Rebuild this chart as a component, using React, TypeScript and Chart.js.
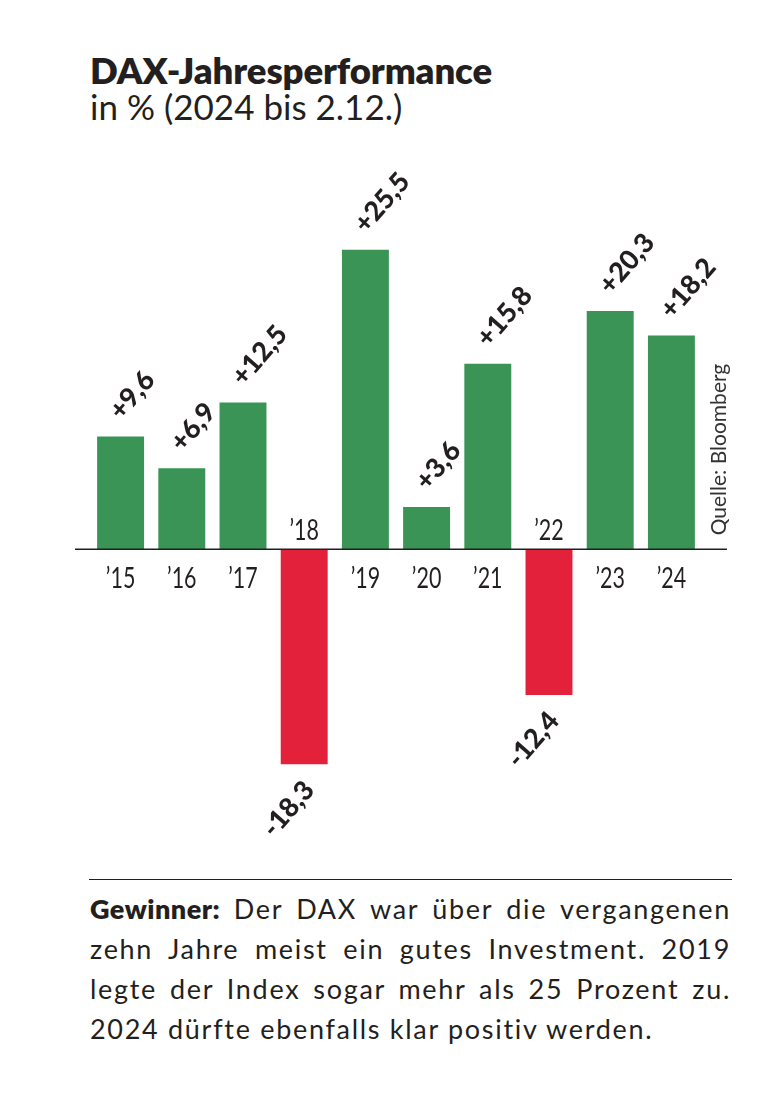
import React, { useEffect, useRef } from "react";
import { Chart, registerables } from "chart.js";

Chart.register(...registerables);

const years = ["’15", "’16", "’17", "’18", "’19", "’20", "’21", "’22", "’23", "’24"];
const performance = [9.6, 6.9, 12.5, -18.3, 25.5, 3.6, 15.8, -12.4, 20.3, 18.2];
const valueLabels = ["+9,6", "+6,9", "+12,5", "-18,3", "+25,5", "+3,6", "+15,8", "-12,4", "+20,3", "+18,2"];

const title = "DAX-Jahresperformance";
const subtitle = "in % (2024 bis 2.12.)";
const source = "Quelle: Bloomberg";
const noteBold = "Gewinner:";
const noteLines = [
  " Der DAX war über die vergangenen",
  "zehn Jahre meist ein gutes Investment. 2019",
  "legte der Index sogar mehr als 25 Prozent zu.",
  "2024 dürfte ebenfalls klar positiv werden.",
];

const GREEN = "#399456";
const RED = "#e3213a";
const INK = "#231f20";
const FONT = "Lato, 'Open Sans', sans-serif";

const labelPlugin = {
  id: "daxLabels",
  afterDraw(chart: any) {
    const ctx = chart.ctx;
    const meta = chart.getDatasetMeta(0);
    const xs = chart.scales.x;
    const ys = chart.scales.y;
    const y0 = ys.getPixelForValue(0);
    ctx.save();
    // zero line
    ctx.strokeStyle = INK;
    ctx.lineWidth = 1.5;
    ctx.beginPath();
    ctx.moveTo(75, y0);
    ctx.lineTo(727, y0);
    ctx.stroke();

    const angle = (-49 * Math.PI) / 180;
    meta.data.forEach((bar: any, i: number) => {
      const v = performance[i];
      // value labels
      ctx.save();
      ctx.fillStyle = INK;
      ctx.font = `900 27px ${FONT}`;
      ctx.textBaseline = "middle";
      if (v >= 0) {
        ctx.translate(bar.x - 6, bar.y - 21);
        ctx.rotate(angle);
        ctx.textAlign = "left";
      } else {
        ctx.translate(bar.x + 5, bar.y + 21);
        ctx.rotate(angle);
        ctx.textAlign = "right";
      }
      ctx.fillText(valueLabels[i], 0, 0);
      ctx.restore();

      // year labels
      const cx = xs.getPixelForValue(i);
      ctx.save();
      ctx.fillStyle = INK;
      ctx.font = `400 29px ${FONT}`;
      ctx.textAlign = "center";
      ctx.textBaseline = "alphabetic";
      ctx.translate(cx, v >= 0 ? y0 + 39 : y0 - 9);
      ctx.scale(0.74, 1);
      ctx.fillText(years[i], 0, 0);
      ctx.restore();
    });

    // source
    ctx.save();
    ctx.fillStyle = "#333";
    ctx.font = `400 21px ${FONT}`;
    ctx.textAlign = "left";
    ctx.textBaseline = "alphabetic";
    ctx.translate(726, y0 - 14);
    ctx.rotate(-Math.PI / 2);
    ctx.fillText(source, 0, 0);
    ctx.restore();
    ctx.restore();
  },
};

export default function App() {
  const ref = useRef<HTMLCanvasElement | null>(null);

  useEffect(() => {
    if (!ref.current) return;
    const chart = new Chart(ref.current, {
      type: "bar",
      data: {
        labels: years,
        datasets: [
          {
            data: performance,
            backgroundColor: performance.map((v) => (v >= 0 ? GREEN : RED)),
            borderWidth: 0,
            barPercentage: 0.767,
            categoryPercentage: 1,
          },
        ],
      },
      options: {
        responsive: false,
        animation: false,
        devicePixelRatio: 1,
        layout: { padding: { left: 90, right: 75, top: 47, bottom: 27 } },
        plugins: {
          legend: { display: false },
          tooltip: { enabled: false },
          title: { display: false },
        },
        scales: {
          x: { display: false },
          y: { display: false, min: -25, max: 30 },
        },
      },
      plugins: [labelPlugin],
    });
    return () => chart.destroy();
  }, []);

  const textBase: React.CSSProperties = {
    position: "absolute",
    fontFamily: FONT,
    color: INK,
    whiteSpace: "nowrap",
    margin: 0,
  };

  return (
    <div style={{ position: "absolute", left: 0, top: 0, width: 777, height: 1096, background: "#fff" }}>
      <div style={{ ...textBase, left: 90, top: 52, fontSize: 36.5, lineHeight: "37px", fontWeight: 800, letterSpacing: "-0.1px" }}>{title}</div>
      <div style={{ ...textBase, left: 90, top: 89, fontSize: 35, lineHeight: "35px", fontWeight: 400 }}>{subtitle}</div>
      <canvas ref={ref} width={777} height={720} style={{ position: "absolute", left: 0, top: 150, width: 777, height: 720 }} />
      <div style={{ position: "absolute", left: 89, top: 879, width: 643, height: 0, borderTop: `1.5px solid ${INK}` }} />
      <div style={{ position: "absolute", left: 90, top: 889, width: 641, fontFamily: FONT, color: INK, fontSize: 27, letterSpacing: "1.7px" }}>
        {noteLines.map((line, i) => (
          <div
            key={i}
            style={{
              height: 40,
              lineHeight: "40px",
              textAlign: "justify",
              textAlignLast: i < noteLines.length - 1 ? "justify" : "left",
              whiteSpace: "nowrap",
            } as React.CSSProperties}
          >
            {i === 0 ? <b style={{ fontWeight: 800, letterSpacing: "0.5px" }}>{noteBold}</b> : null}
            {line}
          </div>
        ))}
      </div>
    </div>
  );
}
